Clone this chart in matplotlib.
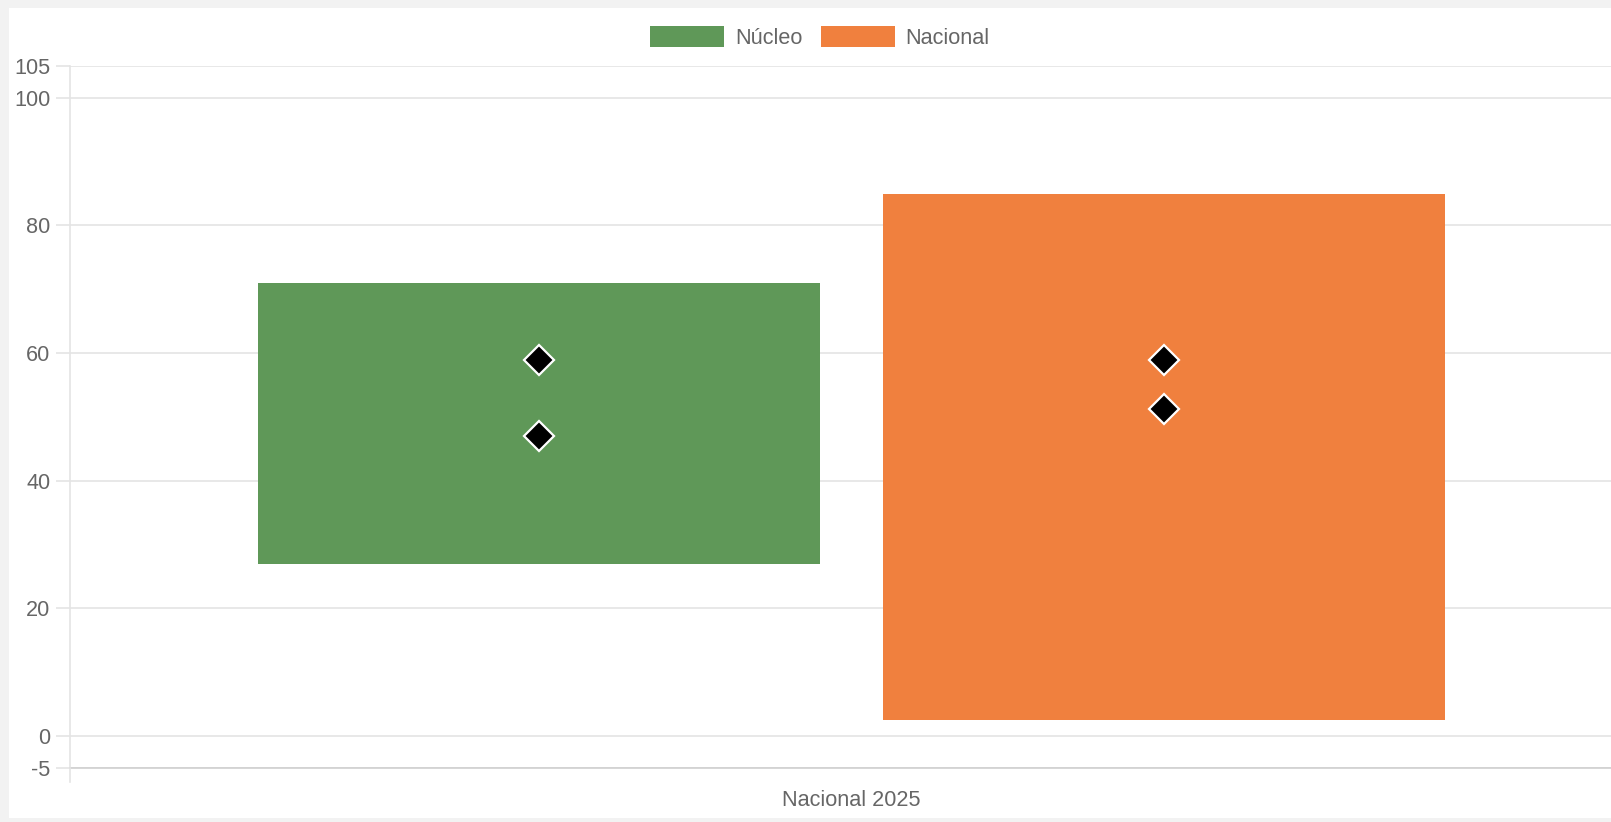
import matplotlib.pyplot as plt
from matplotlib.patches import Rectangle
from matplotlib.lines import Line2D

# datos
categorias = ["Nacional 2025"]
series = ["Núcleo", "Nacional"]
colores = ["#5f9858", "#f0803e"]
rango_min = [27.0, 2.4]
rango_max = [71.0, 84.9]
puntos_nucleo = [58.9, 47.0]
puntos_nacional = [58.9, 51.3]
y_ticks = [-5, 0, 20, 40, 60, 80, 100, 105]

W, H = 1611, 822
GRIS_TXT = "#666666"
GRID = "#e4e4e4"

plt.rcParams["font.family"] = ["Liberation Sans", "DejaVu Sans"]

fig = plt.figure(figsize=(W / 100, H / 100), dpi=100, facecolor="#f2f2f2")
# panel blanco (detrás de los ejes)
fig.patches.append(Rectangle((9 / W, 1 - 818 / H), 1 - 9 / W, (818 - 8) / H,
                             transform=fig.transFigure, facecolor="white",
                             edgecolor="none", zorder=-5))

# el área del gráfico sigue más allá del borde derecho
x0, x1 = 70, 1632.6
y_top, y_bot = 66, 767.7
ax = fig.add_axes([x0 / W, 1 - y_bot / H, (x1 - x0) / W, (y_bot - y_top) / H])
ax.set_facecolor("none")

ancho = 0.36
desp = 0.2
for i, (nombre, col) in enumerate(zip(series, colores)):
    xs = [c - desp if i == 0 else c + desp for c in range(len(categorias))]
    ax.bar(xs, [rango_max[i] - rango_min[i]], bottom=[rango_min[i]],
           width=ancho, color=col, zorder=2, label=nombre)

for i, pts in enumerate([puntos_nucleo, puntos_nacional]):
    xp = -desp if i == 0 else desp
    ax.plot([xp] * len(pts), pts, linestyle="none", marker="D", markersize=15,
            markerfacecolor="black", markeredgecolor="white",
            markeredgewidth=1.6, zorder=3)

ax.set_xlim(-0.5, 0.5)
ax.set_ylim(-5, 105)
ax.set_yticks(y_ticks)
ax.set_yticklabels([str(t) for t in y_ticks])
ax.grid(axis="y", color=GRID, linewidth=1.2, zorder=1)
ax.tick_params(axis="y", length=10, width=1.2, color=GRID, pad=4.3,
               labelsize=15.6, labelcolor=GRIS_TXT)

ax.set_xticks([0])
ax.set_xticklabels(categorias)
ax.tick_params(axis="x", length=0, pad=16, labelsize=15.6, labelcolor=GRIS_TXT)
# marca vertical en el borde izquierdo de la categoría
fig.add_artist(Line2D([x0 / W, x0 / W], [1 - 781.7 / H, 1 - y_bot / H],
                      transform=fig.transFigure, color=GRID, linewidth=1.2))

for s in ["top", "right"]:
    ax.spines[s].set_visible(False)
ax.spines["left"].set_color(GRID)
ax.spines["left"].set_linewidth(1.2)
ax.spines["bottom"].set_color("#cfcfcf")
ax.spines["bottom"].set_linewidth(1.2)

handles = [Rectangle((0, 0), 1, 1, facecolor=c, edgecolor="none") for c in colores]
fig.legend(handles, series, loc="center", ncols=2,
           bbox_to_anchor=(820 / W, 1 - 37.5 / H), frameon=False,
           fontsize=15.6, labelcolor=GRIS_TXT, handlelength=3.4,
           handleheight=1.1, handletextpad=0.5, columnspacing=0.86,
           borderpad=0, borderaxespad=0)

fig.savefig("out.png", dpi=100, facecolor=fig.get_facecolor())
